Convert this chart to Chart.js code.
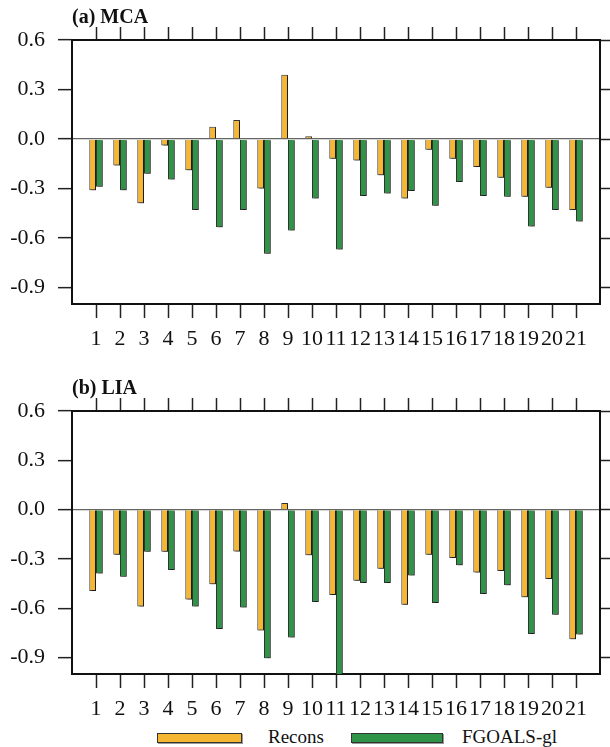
<!DOCTYPE html>
<html>
<head>
<meta charset="utf-8">
<script src="https://cdn.jsdelivr.net/npm/chart.js@4"></script>
<style>
  body { margin: 0; background: #fff; width: 610px; height: 747px; position: relative; overflow: hidden; }
  .panel { position: absolute; left: 0; width: 610px; }
  #legend { position: absolute; left: 0; top: 726px; width: 610px; height: 21px; font-family: 'Liberation Serif', serif; font-size: 19px; color: #111; }
  .box { position: absolute; top: 7px; height: 8px; border: 1px solid #333; box-shadow: 1px 1px 0 #999; }
  .lbl { position: absolute; top: 0; line-height: 21px; }
</style>
</head>
<body>
<div class="panel" style="top:0;height:360px"><canvas id="mca"></canvas></div>
<div class="panel" style="top:370px;height:356px"><canvas id="lia"></canvas></div>
<div id="legend">
  <div class="box" style="left:157px;width:83px;background:#f5b731"></div>
  <div class="lbl" style="left:268px">Recons</div>
  <div class="box" style="left:351px;width:90px;background:#2f9447"></div>
  <div class="lbl" style="left:462px">FGOALS-gl</div>
</div>
<script>
// categories and values
const categories = [1, 2, 3, 4, 5, 6, 7, 8, 9, 10, 11, 12, 13, 14, 15, 16, 17, 18, 19, 20, 21];
const yTicks = [-0.9, -0.6, -0.3, 0.0, 0.3, 0.6];

const mcaRecons = [-0.31, -0.16, -0.39, -0.04, -0.19, 0.075, 0.115, -0.30, 0.39, 0.016, -0.12,
                   -0.13, -0.22, -0.36, -0.065, -0.12, -0.17, -0.235, -0.35, -0.295, -0.43];
const mcaFgoals = [-0.29, -0.31, -0.21, -0.245, -0.43, -0.535, -0.43, -0.695, -0.555, -0.36, -0.67,
                   -0.345, -0.33, -0.315, -0.405, -0.26, -0.345, -0.35, -0.53, -0.43, -0.50];

const liaRecons = [-0.495, -0.275, -0.59, -0.257, -0.547, -0.454, -0.255, -0.735, 0.04, -0.278, -0.52,
                   -0.432, -0.36, -0.578, -0.274, -0.294, -0.383, -0.373, -0.533, -0.422, -0.788];
const liaFgoals = [-0.389, -0.409, -0.257, -0.367, -0.59, -0.726, -0.596, -0.904, -0.778, -0.562, -1.03,
                   -0.446, -0.446, -0.401, -0.568, -0.339, -0.513, -0.46, -0.756, -0.639, -0.76];

const ORANGE = '#f5b731';
const GREEN = '#2f9447';
const FONT = "'Liberation Serif', 'Times New Roman', serif";

// grey drop shadow behind the bars
const shadowPlugin = {
    id: 'barShadow',
    beforeDatasetsDraw(chart) {
        const ctx = chart.ctx;
        ctx.save();
        ctx.shadowColor = 'rgba(0,0,0,0.45)';
        ctx.shadowOffsetX = 1.5;
        ctx.shadowOffsetY = 1;
        ctx.shadowBlur = 0.5;
    },
    afterDatasetsDraw(chart) {
        chart.ctx.restore();
    }
};

// panel label, left aligned on the frame
const titlePlugin = {
    id: 'panelTitle',
    afterDraw(chart, args, opts) {
        const ctx = chart.ctx;
        ctx.save();
        ctx.fillStyle = '#111';
        ctx.font = 'bold 20px ' + FONT;
        ctx.textAlign = 'left';
        ctx.textBaseline = 'alphabetic';
        ctx.fillText(opts.text, chart.chartArea.left, chart.chartArea.top - 17);
        ctx.restore();
    }
};

function makeChart(id, title, recons, fgoals, areaTop, areaBottom, height) {
    const toPoints = vals => categories.map((c, i) => ({ x: c, y: vals[i] }));
    const xTickList = axis => { axis.ticks = categories.map(v => ({ value: v })); };
    const yTickList = axis => { axis.ticks = yTicks.map(v => ({ value: v })); };
    const border = { display: true, color: '#111', width: 2 };

    return new Chart(document.getElementById(id), {
        type: 'bar',
        data: {
            datasets: [
                {
                    label: 'Recons',
                    data: toPoints(recons),
                    backgroundColor: ORANGE,
                    borderColor: '#333',
                    borderWidth: 1,
                    xAxisID: 'x',
                    yAxisID: 'y'
                },
                {
                    label: 'FGOALS-gl',
                    data: toPoints(fgoals),
                    backgroundColor: GREEN,
                    borderColor: '#333',
                    borderWidth: 1,
                    xAxisID: 'x',
                    yAxisID: 'y'
                }
            ]
        },
        options: {
            responsive: true,
            maintainAspectRatio: false,
            animation: false,
            layout: { padding: 0 },
            categoryPercentage: 0.56,
            barPercentage: 1.0,
            plugins: {
                legend: { display: false },
                tooltip: { enabled: false },
                panelTitle: { text: title }
            },
            scales: {
                x: {
                    type: 'linear',
                    position: 'bottom',
                    offset: false,
                    min: 0,
                    max: 22,
                    afterBuildTicks: xTickList,
                    afterFit: s => { s.height = height - areaBottom; },
                    ticks: {
                        autoSkip: false,
                        maxRotation: 0,
                        padding: 8,
                        color: '#111',
                        font: { family: FONT, size: 22 },
                        callback: v => String(v)
                    },
                    grid: { offset: false, drawOnChartArea: false, drawTicks: true, tickLength: 14, tickColor: '#222', tickWidth: 1.5 },
                    border: border
                },
                xTop: {
                    type: 'linear',
                    position: 'top',
                    offset: false,
                    min: 0,
                    max: 22,
                    afterBuildTicks: xTickList,
                    afterFit: s => { s.height = areaTop; },
                    ticks: { display: false },
                    grid: { offset: false, drawOnChartArea: false, drawTicks: true, tickLength: 13, tickColor: '#222', tickWidth: 1.5 },
                    border: border
                },
                y: {
                    type: 'linear',
                    position: 'left',
                    min: -1.0,
                    max: 0.6,
                    afterBuildTicks: yTickList,
                    afterFit: s => { s.width = 72; },
                    ticks: {
                        padding: 13,
                        color: '#111',
                        font: { family: FONT, size: 22 },
                        callback: v => Number(v).toFixed(1)
                    },
                    grid: {
                        drawOnChartArea: true,
                        drawTicks: true,
                        tickLength: 14,
                        color: c => (c.tick && c.tick.value === 0 ? '#666' : 'rgba(0,0,0,0)'),
                        lineWidth: 1.3,
                        tickColor: '#222',
                        tickWidth: 1.5
                    },
                    border: border
                },
                yRight: {
                    type: 'linear',
                    position: 'right',
                    min: -1.0,
                    max: 0.6,
                    afterBuildTicks: yTickList,
                    afterFit: s => { s.width = 10; },
                    ticks: { display: false },
                    grid: { drawOnChartArea: false, drawTicks: true, tickLength: 10, tickColor: '#222', tickWidth: 1.5 },
                    border: border
                }
            }
        },
        plugins: [shadowPlugin, titlePlugin]
    });
}

makeChart('mca', '(a) MCA', mcaRecons, mcaFgoals, 40, 304, 360);
makeChart('lia', '(b) LIA', liaRecons, liaFgoals, 41, 304, 356);
</script>
</body>
</html>
